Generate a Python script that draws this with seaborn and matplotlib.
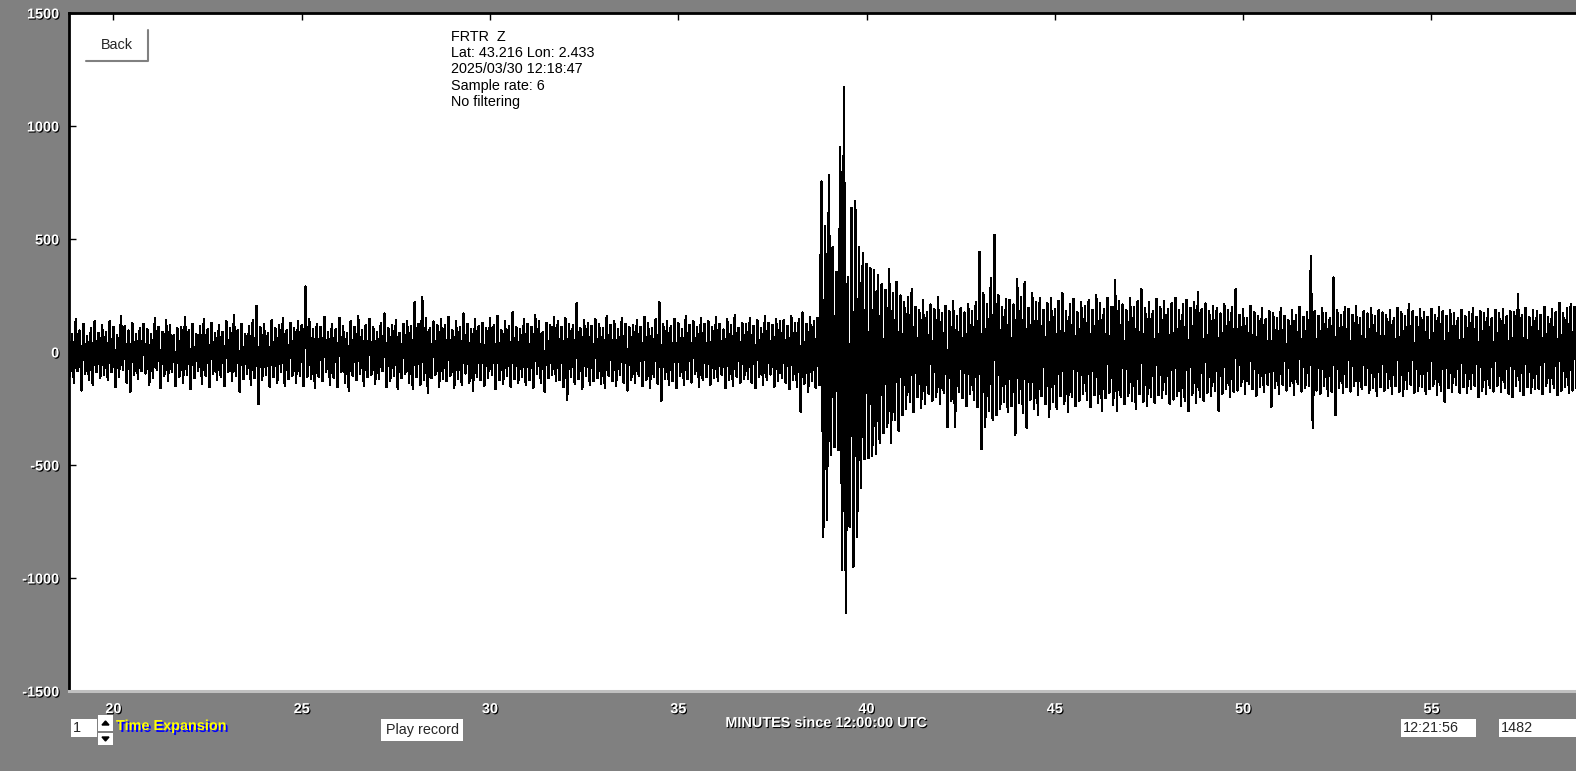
"""
Seismogram FRTR Z - recreated with seaborn / matplotlib
"""
import numpy as np
import pandas as pd
import seaborn as sns
import matplotlib.pyplot as plt
import matplotlib.patheffects as pe
from matplotlib.patches import Rectangle, Polygon
from matplotlib.lines import Line2D

sns.set_style('white')
plt.rcParams['font.family'] = ['Liberation Sans', 'DejaVu Sans']
plt.rcParams['axes.unicode_minus'] = False

# 画布像素尺寸
W, H = 1576, 771

# 数据：每 0.1 分钟一个采样块，上峰值 / 下峰值（counts），起始 18.8 分钟
T_START = 18.8
T_STEP = 0.1

UPPER = [
    110, 80, 145, 95, 125, 70, 105, 135, 85, 120,        # 18.8
    90, 135, 110, 75, 160, 115, 95, 130, 80, 105,        # 19.8
    125, 100, 80, 150, 110, 90, 140, 120, 75, 105,       # 20.8
    110, 155, 95, 125, 80, 115, 145, 100, 130, 85,       # 21.8
    120, 90, 135, 105, 165, 95, 125, 80, 115, 140,       # 22.8
    205, 110, 125, 85, 140, 105, 120, 150, 95, 130,      # 23.8
    105, 135, 120, 290, 145, 100, 125, 110, 155, 90,     # 24.8
    125, 100, 150, 115, 85, 135, 110, 160, 95, 120,      # 25.8
    145, 110, 90, 130, 170, 105, 120, 140, 85, 125,      # 26.8
    135, 115, 220, 125, 245, 150, 105, 135, 120, 145,    # 27.8
    120, 155, 95, 135, 110, 170, 125, 100, 145, 115,     # 28.8
    130, 105, 150, 120, 160, 95, 135, 115, 175, 110,     # 29.8
    100, 145, 125, 110, 165, 135, 90, 130, 120, 155,     # 30.8
    135, 110, 150, 125, 120, 215, 105, 140, 130, 115,    # 31.8
    145, 125, 105, 160, 120, 135, 100, 150, 125, 110,    # 32.8
    120, 140, 110, 155, 130, 105, 145, 220, 125, 135,    # 33.8
    115, 145, 130, 100, 160, 120, 135, 110, 150, 125,    # 34.8
    135, 110, 155, 125, 100, 145, 120, 165, 105, 130,    # 35.8
    125, 150, 115, 140, 105, 160, 130, 120, 145, 135,    # 36.8
    140, 115, 160, 130, 145, 175, 125, 155, 135, 150,    # 37.8
    754, 555, 783, 462, 355, 908, 1174, 333, 636, 668,   # 38.8
    465, 437, 390, 370, 362, 340, 300, 275, 366, 260,    # 39.8
    311, 250, 220, 245, 277, 200, 185, 230, 175, 210,    # 40.8
    190, 242, 170, 205, 180, 225, 160, 195, 175, 210,    # 41.8
    180, 220, 444, 260, 210, 326, 518, 250, 200, 235,    # 42.8
    230, 210, 321, 245, 308, 195, 260, 220, 240, 185,    # 43.8
    215, 240, 190, 225, 260, 180, 210, 235, 175, 220,    # 44.8
    205, 230, 185, 250, 215, 190, 240, 200, 318, 225,    # 45.8
    210, 185, 240, 200, 225, 277, 195, 220, 180, 235,    # 46.8
    200, 225, 190, 215, 240, 185, 210, 230, 195, 220,    # 47.8
    267, 190, 215, 180, 205, 195, 170, 210, 185, 200,    # 48.8
    277, 165, 190, 150, 205, 175, 160, 195, 145, 180,    # 49.8
    170, 150, 195, 160, 140, 185, 165, 200, 155, 175,    # 50.8
    425, 180, 160, 195, 170, 150, 330, 185, 165, 200,    # 51.8
    190, 165, 205, 150, 180, 170, 195, 160, 185, 175,    # 52.8
    165, 185, 150, 195, 175, 160, 211, 180, 155, 190,    # 53.8
    175, 155, 190, 165, 200, 180, 160, 185, 170, 150,    # 54.8
    185, 160, 175, 195, 155, 180, 170, 190, 150, 185,    # 55.8
    170, 190, 160, 180, 175, 257, 165, 195, 155, 185,    # 56.8
    180, 165, 200, 155, 190, 175, 218, 170, 195, 210,    # 57.8
    200,                                                 # 58.8
]

LOWER = [
    -105, -135, -85, -170, -95, -125, -145, -90, -115, -100,
    -125, -90, -155, -110, -80, -135, -175, -100, -120, -85,
    -95, -145, -115, -80, -160, -105, -130, -90, -150, -110,
    -135, -100, -165, -115, -85, -140, -105, -155, -95, -125,
    -110, -150, -90, -130, -105, -175, -120, -95, -145, -115,
    -230, -125, -100, -155, -110, -135, -90, -150, -120, -105,
    -135, -105, -150, -110, -120, -160, -110, -130, -90, -145,
    -115, -155, -90, -135, -170, -105, -125, -95, -150, -110,
    -100, -140, -120, -85, -155, -130, -105, -165, -115, -95,
    -135, -165, -110, -145, -125, -180, -115, -100, -155, -120,
    -130, -105, -160, -120, -145, -95, -135, -170, -110, -125,
    -150, -115, -100, -165, -125, -140, -105, -155, -120, -135,
    -110, -145, -125, -160, -95, -135, -175, -115, -100, -130,
    -125, -155, -210, -110, -140, -120, -165, -105, -145, -130,
    -115, -140, -160, -105, -130, -150, -100, -135, -170, -125,
    -135, -105, -150, -125, -160, -110, -140, -215, -120, -145,
    -130, -160, -105, -145, -120, -135, -95, -155, -125, -110,
    -145, -115, -130, -100, -160, -125, -150, -110, -135, -120,
    -120, -135, -160, -110, -145, -125, -100, -155, -130, -115,
    -135, -165, -125, -155, -264, -140, -175, -130, -160, -145,
    -817, -743, -456, -420, -434, -965, -1156, -773, -950, -817,
    -600, -475, -470, -460, -450, -404, -360, -330, -401, -300,
    -348, -280, -250, -220, -265, -200, -249, -230, -185, -215,
    -200, -230, -180, -333, -215, -333, -175, -205, -240, -185,
    -210, -245, -430, -330, -260, -300, -280, -250, -220, -265,
    -240, -367, -225, -270, -335, -210, -250, -280, -195, -230,
    -286, -220, -250, -195, -230, -265, -200, -240, -215, -185,
    -210, -245, -190, -225, -260, -205, -180, -235, -260, -200,
    -230, -195, -215, -250, -185, -220, -240, -200, -225, -190,
    -205, -185, -230, -210, -195, -240, -215, -260, -190, -225,
    -200, -215, -180, -195, -170, -260, -185, -165, -200, -175,
    -170, -150, -185, -140, -165, -195, -155, -175, -145, -242,
    -160, -185, -145, -170, -150, -190, -140, -175, -160, -150,
    -338, -170, -185, -150, -195, -175, -279, -160, -180, -155,
    -175, -150, -190, -165, -145, -180, -160, -195, -155, -170,
    -160, -185, -150, -175, -195, -165, -145, -180, -170, -155,
    -185, -165, -150, -190, -170, -220, -160, -175, -145, -180,
    -155, -180, -165, -150, -200, -170, -185, -160, -175, -150,
    -175, -160, -185, -200, -150, -170, -190, -155, -180, -165,
    -165, -185, -150, -175, -160, -190, -170, -155, -180, -170,
    -160,
]

Y_TICKS = [-1500, -1000, -500, 0, 500, 1000, 1500]
X_TICKS = [20, 25, 30, 35, 40, 45, 50, 55]
INFO_LINES = ['FRTR  Z', 'Lat: 43.216 Lon: 2.433', '2025/03/30 12:18:47',
              'Sample rate: 6', 'No filtering']

GRAY = '#808080'
SHADOW = [pe.SimplePatchShadow(offset=(0.8, -0.8), shadow_rgbFace='black', alpha=1.0),
          pe.Normal()]
FS = 10.4


def fx(x):
    return x / W


def fy(y):
    return 1 - y / H


def box(fig, x0, y0, x1, y1, color='white'):
    fig.add_artist(Rectangle((fx(x0), fy(y1)), fx(x1) - fx(x0), fy(y0) - fy(y1),
                             transform=fig.transFigure, facecolor=color,
                             edgecolor='none', zorder=5))


def build_trace():
    t = T_START + T_STEP * np.arange(len(UPPER))
    xs = np.empty(2 * len(t))
    ys = np.empty(2 * len(t))
    xs[0::2] = t
    xs[1::2] = t + T_STEP / 2
    ys[0::2] = UPPER
    ys[1::2] = LOWER
    return pd.DataFrame({'minutes': xs, 'counts': ys})


fig = plt.figure(figsize=(W / 100, H / 100), dpi=100, facecolor=GRAY)
ax = fig.add_axes([fx(69), fy(691), fx(W) - fx(69), fy(13) - fy(691)])
ax.set_facecolor('white')

df = build_trace()
sns.lineplot(data=df, x='minutes', y='counts', sort=False, estimator=None,
             color='black', lw=1.0, antialiased=False, ax=ax)

ax.set_xlim(18.82, 58.84)
ax.set_ylim(-1500, 1500)
ax.set_xticks(X_TICKS)
ax.set_yticks(Y_TICKS)
ax.set_xlabel('')
ax.set_ylabel('')
ax.tick_params(axis='both', direction='in', length=5, width=1, color='black',
               labelcolor='white', labelsize=FS)
ax.tick_params(axis='x', top=True, pad=8)
ax.tick_params(axis='y', left=True, pad=7)
for lbl in ax.get_xticklabels() + ax.get_yticklabels():
    lbl.set_fontweight('bold')
    lbl.set_path_effects(SHADOW)

for side in ('top', 'left'):
    ax.spines[side].set_visible(True)
    ax.spines[side].set_color('black')
    ax.spines[side].set_linewidth(2)
ax.spines['bottom'].set_color('#c0c0c0')
ax.spines['bottom'].set_linewidth(2.2)
ax.spines['right'].set_visible(False)

# 信息文本
for i, line in enumerate(INFO_LINES):
    fig.text(fx(451), fy(37 + 16.2 * i), line, fontsize=FS, color='black',
             ha='left', va='center', zorder=6)

# Back 按钮
box(fig, 86, 30, 148, 62)
fig.add_artist(Line2D([fx(86), fx(148), fx(148)], [fy(61), fy(61), fy(30)],
                      transform=fig.transFigure, color=GRAY, lw=1.5, zorder=6))
fig.text(fx(117), fy(45), 'Back', fontsize=FS, ha='center', va='center', zorder=7)

# 底部控件
box(fig, 71, 719, 97, 737)
fig.text(fx(73), fy(728), '1', fontsize=FS, ha='left', va='center', zorder=7)
box(fig, 98, 715, 113, 731)
box(fig, 98, 733, 113, 745)
fig.add_artist(Polygon([[fx(102), fy(725)], [fx(109), fy(725)], [fx(105.5), fy(721)]],
                       closed=True, transform=fig.transFigure, color='black', zorder=7))
fig.add_artist(Polygon([[fx(102), fy(737)], [fx(109), fy(737)], [fx(105.5), fy(741)]],
                       closed=True, transform=fig.transFigure, color='black', zorder=7))
fig.text(fx(116), fy(726), 'Time Expansion', fontsize=FS, fontweight='bold',
         color='yellow', ha='left', va='center', zorder=7,
         path_effects=[pe.SimplePatchShadow(offset=(1.4, -1.4), shadow_rgbFace='blue', alpha=1.0),
                       pe.Normal()])

box(fig, 381, 719, 463, 741)
fig.text(fx(422), fy(730), 'Play record', fontsize=FS, ha='center', va='center', zorder=7)

fig.text(fx(826), fy(723), 'MINUTES since 12:00:00 UTC', fontsize=FS, fontweight='bold',
         color='white', ha='center', va='center', path_effects=SHADOW, zorder=7)

box(fig, 1401, 719, 1476, 737)
fig.text(fx(1403), fy(728), '12:21:56', fontsize=FS, ha='left', va='center', zorder=7)
box(fig, 1499, 719, 1576, 737)
fig.text(fx(1501), fy(728), '1482', fontsize=FS, ha='left', va='center', zorder=7)

fig.savefig('out.png', dpi=100, facecolor=GRAY)
